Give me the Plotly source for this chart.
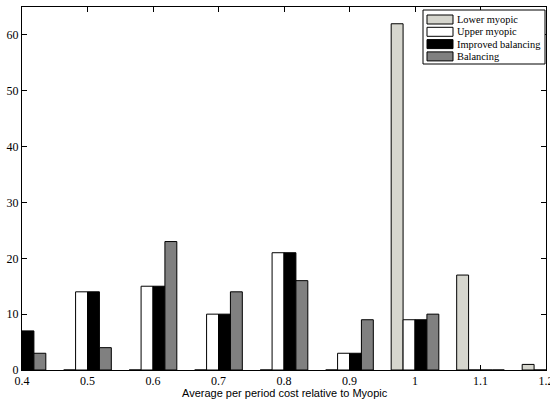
import plotly.graph_objects as go

bins = [0.4, 0.5, 0.6, 0.7, 0.8, 0.9, 1.0, 1.1, 1.2]
lower_myopic = [0, 0, 0, 0, 0, 0, 62, 17, 1]
upper_myopic = [0, 14, 15, 10, 21, 3, 9, 0, 0]
improved_balancing = [7, 14, 15, 10, 21, 3, 9, 0, 0]
balancing = [3, 4, 23, 14, 16, 9, 10, 0, 0]

x_ticks = [0.4, 0.5, 0.6, 0.7, 0.8, 0.9, 1.0, 1.1, 1.2]
x_tick_labels = ["0.4", "0.5", "0.6", "0.7", "0.8", "0.9", "1", "1.1", "1.2"]
y_ticks = [0, 10, 20, 30, 40, 50, 60]
x_title = "Average per period cost relative to Myopic"

series_names = ["Lower myopic", "Upper myopic", "Improved balancing", "Balancing"]
series_values = [lower_myopic, upper_myopic, improved_balancing, balancing]
series_colors = ["#d6d6ce", "#ffffff", "#000000", "#808080"]

W, H = 550, 402
ML, MR, MT, MB = 22, 4, 7, 32
PW, PH = W - ML - MR, H - MT - MB


def px(x):
    return (x - ML) / PW


def py(y):
    return (H - MB - y) / PH


fig = go.Figure()
for name, vals, col in zip(series_names, series_values, series_colors):
    fig.add_trace(go.Bar(
        x=bins, y=vals, name=name,
        marker=dict(color=col, line=dict(color="black", width=1)),
    ))

serif = "Liberation Serif"

# custom MATLAB-style legend
shapes = [dict(type="rect", xref="paper", yref="paper",
               x0=px(423), x1=px(545), y0=py(64), y1=py(10),
               line=dict(color="black", width=1), fillcolor="white", layer="above")]
annotations = []
row_centers = [19.5, 31.8, 44.1, 56.4]
for name, col, yc in zip(series_names, series_colors, row_centers):
    shapes.append(dict(type="rect", xref="paper", yref="paper",
                       x0=px(427), x1=px(453), y0=py(yc + 4.5), y1=py(yc - 4.5),
                       line=dict(color="black", width=1), fillcolor=col, layer="above"))
    annotations.append(dict(xref="paper", yref="paper", x=px(455), y=py(yc),
                            xanchor="left", yanchor="middle", showarrow=False,
                            text=name, font=dict(family=serif, size=10.4, color="black")))

annotations.append(dict(xref="paper", yref="paper", x=px(285), y=py(393),
                        xanchor="center", yanchor="middle", showarrow=False,
                        text=x_title,
                        font=dict(family="Liberation Sans", size=11, color="black")))

fig.update_layout(
    width=W, height=H,
    margin=dict(l=ML, r=MR, t=MT, b=MB),
    paper_bgcolor="white", plot_bgcolor="white",
    barmode="group", bargap=0.2727, bargroupgap=0,
    font=dict(family=serif, size=12, color="black"),
    showlegend=False,
    shapes=shapes,
    annotations=annotations,
)
fig.update_xaxes(
    range=[0.4, 1.2], tickvals=x_ticks, ticktext=x_tick_labels,
    ticks="inside", ticklen=5, tickcolor="black",
    showline=True, linecolor="black", linewidth=1, mirror="allticks",
    showgrid=False, zeroline=False,
    tickfont=dict(family=serif, size=12),
    ticklabeloverflow="allow",
    automargin=False,
)
fig.update_yaxes(
    range=[0, 65], tickvals=y_ticks,
    ticks="inside", ticklen=5, tickcolor="black",
    showline=True, linecolor="black", linewidth=1, mirror="allticks",
    showgrid=False, zeroline=False,
    tickfont=dict(family=serif, size=12),
    automargin=False,
)

fig.write_html("out.html")
